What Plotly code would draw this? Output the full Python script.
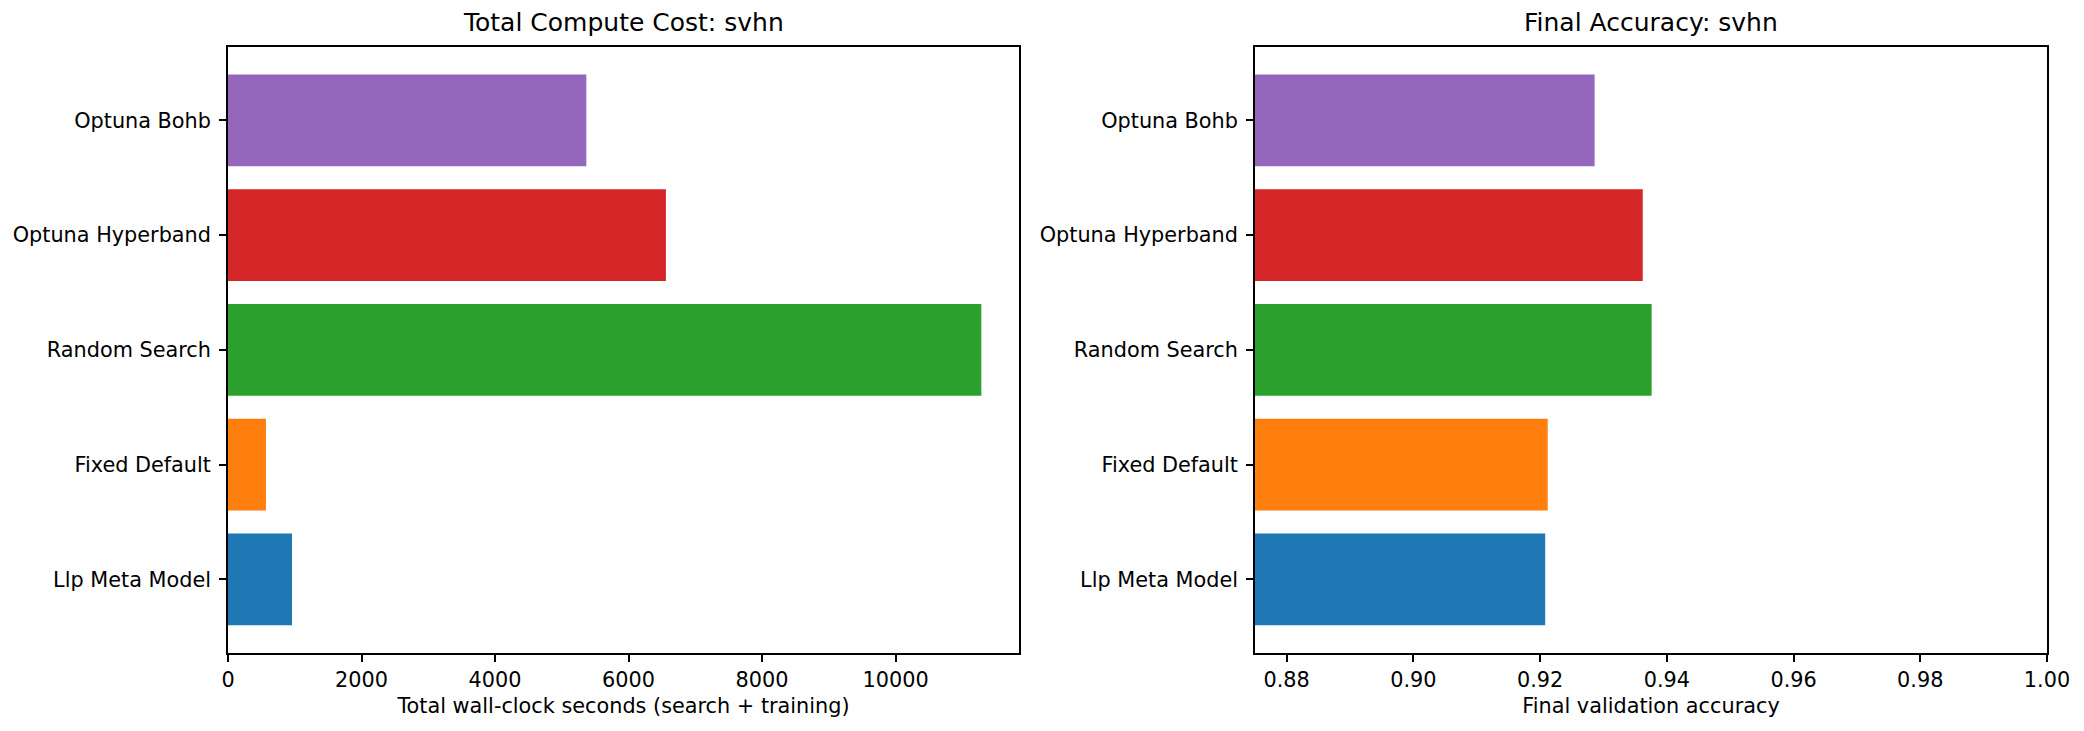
import plotly.graph_objects as go

methods = ["Llp Meta Model", "Fixed Default", "Random Search", "Optuna Hyperband", "Optuna Bohb"]
compute_cost = [959, 569, 11285, 6560, 5368]
final_accuracy = [0.9208, 0.9212, 0.9376, 0.9362, 0.9286]
colors = ["#1f77b4", "#ff7f0e", "#2ca02c", "#d62728", "#9467bd"]

cost_ticks = [0, 2000, 4000, 6000, 8000, 10000]
acc_ticks = [0.88, 0.90, 0.92, 0.94, 0.96, 0.98, 1.00]

W, H = 2084, 731
FONT = "DejaVu Sans"
fs = 20.8

fig = go.Figure()
fig.add_trace(go.Bar(x=compute_cost, y=methods, orientation="h", marker=dict(color=colors, line=dict(width=0)),
                     width=0.8, xaxis="x", yaxis="y", showlegend=False))
fig.add_trace(go.Bar(x=final_accuracy, y=methods, orientation="h", marker=dict(color=colors, line=dict(width=0)),
                     width=0.8, xaxis="x2", yaxis="y2", showlegend=False))

ytop = 47
ybot = 652.7
ydom = [(H - ybot) / H, (H - ytop) / H]
xd1 = [228 / W, 1019 / W]
xd2 = [1255 / W, 2047 / W]

axis_common = dict(showline=True, mirror=True, linecolor="#000000", linewidth=1.7,
                   ticks="outside", ticklen=7, tickwidth=1.7, tickcolor="#000000",
                   showgrid=False, zeroline=False, automargin=False,
                   tickfont=dict(family=FONT, size=fs, color="#000000"))

xmax = max(compute_cost) * 1.05
fig.update_layout(
    width=W, height=H,
    margin=dict(l=0, r=0, t=0, b=0),
    paper_bgcolor="white", plot_bgcolor="white",
    font=dict(family=FONT, size=fs, color="#000000"),
    bargap=0.2,
    xaxis=dict(domain=xd1, anchor="y", range=[0, xmax], tickvals=cost_ticks,
               ticktext=[str(v) for v in cost_ticks],
               title=dict(text="Total wall-clock seconds (search + training)",
                          font=dict(family=FONT, size=fs, color="#000000"), standoff=8),
               **axis_common),
    yaxis=dict(domain=ydom, anchor="x", range=[-0.64, 4.64], type="category",
               categoryorder="array", categoryarray=methods, ticklabelstandoff=4, **axis_common),
    xaxis2=dict(domain=xd2, anchor="y2", range=[0.875, 1.0], tickvals=acc_ticks,
                ticktext=["%.2f" % v for v in acc_ticks],
                title=dict(text="Final validation accuracy",
                           font=dict(family=FONT, size=fs, color="#000000"), standoff=8),
                **axis_common),
    yaxis2=dict(domain=ydom, anchor="x2", range=[-0.64, 4.64], type="category",
                categoryorder="array", categoryarray=methods, ticklabelstandoff=4, **axis_common),
    annotations=[
        dict(text="Total Compute Cost: svhn", x=(xd1[0] + xd1[1]) / 2, y=ydom[1], xref="paper", yref="paper",
             xanchor="center", yanchor="bottom", yshift=8, showarrow=False,
             font=dict(family=FONT, size=25, color="#000000")),
        dict(text="Final Accuracy: svhn", x=(xd2[0] + xd2[1]) / 2, y=ydom[1], xref="paper", yref="paper",
             xanchor="center", yanchor="bottom", yshift=8, showarrow=False,
             font=dict(family=FONT, size=25, color="#000000")),
    ],
)

fig.write_html("out.html")
